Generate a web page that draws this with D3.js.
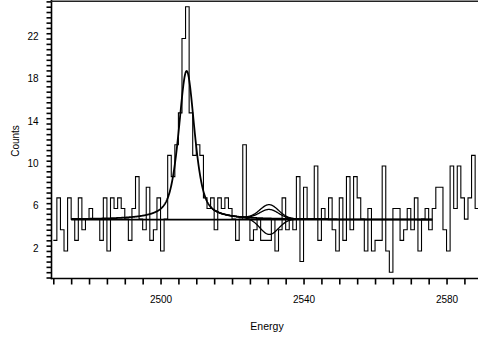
<!DOCTYPE html>
<html>
<head>
<meta charset="utf-8">
<script src="https://cdn.jsdelivr.net/npm/d3@7"></script>
<style>
  html, body { margin: 0; padding: 0; background: #fff; }
  svg { display: block; font-family: "Liberation Sans", Arial, sans-serif; }
</style>
</head>
<body>
<svg id="chart" width="478" height="339"></svg>
<script>
// Histogram: one-unit energy bins starting at firstEdge
const firstEdge = 2470;
const binWidth = 1;
const counts = [
  3, 7, 4, 2, 7, 5, 3, 7, 4, 5,
  6, 5, 5, 3, 7, 2, 7, 6, 7, 6,
  5, 3, 6, 9, 5, 4, 8, 3, 4, 7,
  2, 5, 11, 9, 12, 15, 22, 25, 15, 11,
  12, 11, 7, 6, 7, 4, 7, 6, 7, 6,
  5, 3, 5, 12, 5, 3, 4, 5, 3, 3,
  3, 5, 2, 4, 7, 4, 5, 4, 9, 1,
  8, 5, 5, 10, 3, 6, 5, 7, 4, 2,
  7, 3, 9, 4, 9, 7, 5, 2, 6, 2,
  3, 3, 10, 2, 0, 6, 6, 3, 4, 6,
  4, 7, 2, 5, 6, 4, 6, 8, 8, 4,
  2, 10, 6, 10, 7, 5, 7, 11, 6
];

// Axis ticks and labels
const yTickLabels = [2, 6, 10, 14, 18, 22];
const xTickLabels = [2500, 2540, 2580];

// Fit results: flat background, main peak, and the small component near 2530
const fitRange = [2475, 2576];
const background = 4.95;
const peakCenter = 2507.3;
const peakHeight = 14;
const peakFwhm = 5.3;
const peakLorentzFraction = 0.6;
const bumpRange = [2514, 2547];
const bumpCenter = 2530.4;
const bumpSigma = 2.6;
const bumpHeights = [1.3, 0.85, -1.5];

const svg = d3.select("#chart");
const W = 478, H = 339;

const x = d3.scaleLinear().domain([2469.5, 2589.5]).range([51.5, 480.5]);
const y = d3.scaleLinear().domain([-0.5, 25.5]).range([277.5, 1.4]);

svg.append("rect").attr("width", W).attr("height", H).attr("fill", "#fff");

const plot = svg.append("g");
plot.append("clipPath").attr("id", "plotClip")
  .append("rect").attr("x", 51.5).attr("y", 0).attr("width", W - 51.5).attr("height", 278);

// Histogram outline
const edgePts = counts.map((c, i) => [firstEdge + i * binWidth, c]);
edgePts.push([firstEdge + counts.length * binWidth, counts[counts.length - 1]]);
const stepLine = d3.line().x(d => x(d[0])).y(d => y(d[1])).curve(d3.curveStepAfter);
plot.append("path")
  .attr("clip-path", "url(#plotClip)")
  .attr("d", stepLine(edgePts))
  .attr("fill", "none").attr("stroke", "#000").attr("stroke-width", 1.1);

// Model functions
const sigmaG = peakFwhm / 2.3548;
const gammaL = peakFwhm / 2;
function peakShape(e) {
  const d = e - peakCenter;
  const g = Math.exp(-d * d / (2 * sigmaG * sigmaG));
  const l = 1 / (1 + (d / gammaL) * (d / gammaL));
  return peakHeight * (peakLorentzFraction * l + (1 - peakLorentzFraction) * g);
}
function bumpShape(e, h) {
  const d = e - bumpCenter;
  return h * Math.exp(-d * d / (2 * bumpSigma * bumpSigma));
}

const curve = d3.line().x(d => x(d[0])).y(d => y(d[1]));
const sampleE = (a, b) => d3.range(a, b + 0.001, 0.1);

// Background level
plot.append("path")
  .attr("d", curve(fitRange.map(e => [e, background])))
  .attr("fill", "none").attr("stroke", "#000").attr("stroke-width", 1.6);

// Component curves near 2530
bumpHeights.forEach(h => {
  plot.append("path")
    .attr("d", curve(sampleE(bumpRange[0], bumpRange[1]).map(e => [e, background + peakShape(e) + bumpShape(e, h)])))
    .attr("fill", "none").attr("stroke", "#000").attr("stroke-width", 1.3);
});

// Main fit
plot.append("path")
  .attr("d", curve(sampleE(fitRange[0], fitRange[1]).map(e => [e, background + peakShape(e)])))
  .attr("fill", "none").attr("stroke", "#000").attr("stroke-width", 1.8);

// Y axis
const yAxis = d3.axisLeft(y)
  .tickValues(d3.range(-0.5, 25.51, 0.5))
  .tickSize(5)
  .tickPadding(8)
  .tickFormat(d => yTickLabels.includes(d) ? d : "");
const gy = svg.append("g").attr("transform", "translate(51.5,0)").call(yAxis);
gy.select(".domain").remove();
gy.selectAll(".tick line").attr("stroke", "#000").attr("stroke-width", 1.6);
gy.selectAll(".tick text").attr("dy", "0.05em")
  .attr("font-size", 10).attr("font-family", "Liberation Sans, Arial, sans-serif").attr("fill", "#000");

// X axis
const xAxis = d3.axisBottom(x)
  .tickValues(d3.range(2470, 2589, 5))
  .tickSize(6)
  .tickPadding(11.5)
  .tickFormat(d => xTickLabels.includes(d) ? d : "");
const gx = svg.append("g").attr("transform", "translate(0,278.5)").call(xAxis);
gx.select(".domain").remove();
gx.selectAll(".tick line").attr("stroke", "#000").attr("stroke-width", 1.6);
gx.selectAll(".tick text")
  .attr("font-size", 10).attr("font-family", "Liberation Sans, Arial, sans-serif").attr("fill", "#000");

// Frame lines
svg.append("line").attr("x1", 51.5).attr("x2", 51.5).attr("y1", 0).attr("y2", 279.3)
  .attr("stroke", "#000").attr("stroke-width", 1.6);
svg.append("line").attr("x1", 50.7).attr("x2", W).attr("y1", 278.5).attr("y2", 278.5)
  .attr("stroke", "#000").attr("stroke-width", 1.6);
svg.append("line").attr("x1", 50.7).attr("x2", W).attr("y1", 1.2).attr("y2", 1.2)
  .attr("stroke", "#222").attr("stroke-width", 1.6);

// Axis titles
svg.append("text").attr("x", 267).attr("y", 329.5).attr("text-anchor", "middle")
  .attr("font-size", 10.5).attr("fill", "#000").text("Energy");
svg.append("text").attr("transform", "translate(18.5,141) rotate(-90)").attr("text-anchor", "middle")
  .attr("font-size", 10).attr("fill", "#000").text("Counts");
</script>
</body>
</html>
